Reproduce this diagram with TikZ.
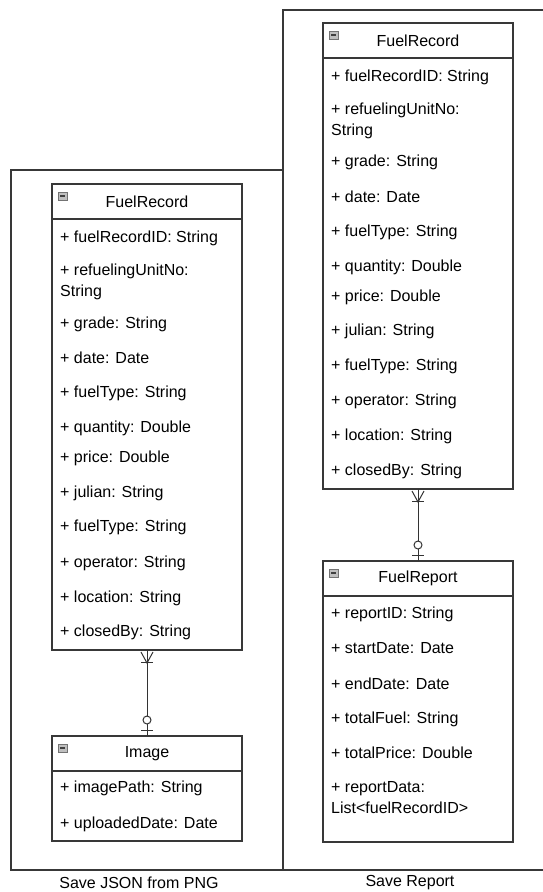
\documentclass[tikz,border=0pt]{standalone}
\usepackage{fontspec}
\setmainfont{Liberation Sans}
\usetikzlibrary{calc}

\tikzset{
  edge/.style={draw=black!78, line width=1.3pt},
  thin edge/.style={draw=black!80, line width=1pt},
  classhead/.style={rectangle, edge, anchor=north west, minimum width=190pt,
    minimum height=35pt, inner sep=0pt, outer sep=0pt,
    font=\fontsize{16}{21}\selectfont},
  classbody/.style={rectangle, edge, anchor=north west, minimum width=190pt,
    inner sep=0pt, outer sep=0pt},
  field/.style={anchor=west, inner sep=0pt, align=left,
    font=\fontsize{16}{21}\selectfont},
  caption/.style={inner sep=0pt, font=\fontsize{16}{19}\selectfont},
  fold/.style={fill=black!25, draw=black!55, line width=0.7pt},
}

% collapse icon in the top-left corner of a class header
\newcommand{\foldicon}[1]{%
  \path[fold] ($(#1.north west)+(6,8)$) rectangle ($(#1.north west)+(15,16)$);
  \draw[black!75, line width=1.1pt] ($(#1.north west)+(8,12)$) -- ($(#1.north west)+(13,12)$);
}

% one-or-many end: crow's foot plus bar, opening towards #1
\newcommand{\manyend}[1]{%
  \draw[thin edge] ($(#1)+(-6,2)$) -- ($(#1)+(0,13)$) -- ($(#1)+(6,2)$);
  \draw[thin edge] ($(#1)+(-6,12)$) -- ($(#1)+(6,12)$);
}
% zero-or-one end: circle plus bar, next to #1
\newcommand{\optend}[1]{%
  \draw[thin edge] ($(#1)+(-6,-6)$) -- ($(#1)+(6,-6)$);
  \draw[thin edge, fill=white] ($(#1)+(0,-16)$) circle (4pt);
}

\begin{document}
\begin{tikzpicture}[x=1pt, y=-1pt]
\useasboundingbox (0,0) rectangle (543,892);

% swimlane frames
\draw[edge] (546,10) -- (283,10) -- (283,870);
\draw[edge] (283,170) -- (11,170) -- (11,870) -- (546,870);

\node[caption] (capL) at (139,883) {Save JSON from PNG};
\node[caption] (capR) at (410,883) {Save Report};

% ---------- left lane: FuelRecord ----------
\node[classhead] (recL) at (52,184) {FuelRecord};
\node[classbody, minimum height=431pt] (recLb) at (recL.south west) {};
\foldicon{recL}
\node[field] (lf1)  at (60,238) {+ fuelRecordID: String};
\node[field] (lf2)  at (60,281.5) {+ refuelingUnitNo:\\String};
\node[field] (lf3)  at (60,324) {+ grade: String};
\node[field] (lf4)  at (60,358) {+ date: Date};
\node[field] (lf5)  at (60,393) {+ fuelType: String};
\node[field] (lf6)  at (60,428) {+ quantity: Double};
\node[field] (lf7)  at (60,458) {+ price: Double};
\node[field] (lf8)  at (60,493) {+ julian: String};
\node[field] (lf9)  at (60,527) {+ fuelType: String};
\node[field] (lf10) at (60,563) {+ operator: String};
\node[field] (lf11) at (60,598) {+ location: String};
\node[field] (lf12) at (60,632) {+ closedBy: String};

% ---------- left lane: Image ----------
\node[classhead] (img) at (52,736) {Image};
\node[classbody, minimum height=70pt] (imgb) at (img.south west) {};
\foldicon{img}
\node[field] (if1) at (60,788) {+ imagePath: String};
\node[field] (if2) at (60,824) {+ uploadedDate: Date};

% ---------- right lane: FuelRecord ----------
\node[classhead] (recR) at (323,23) {FuelRecord};
\node[classbody, minimum height=431pt] (recRb) at (recR.south west) {};
\foldicon{recR}
\node[field] (rf1)  at (331,77) {+ fuelRecordID: String};
\node[field] (rf2)  at (331,120.5) {+ refuelingUnitNo:\\String};
\node[field] (rf3)  at (331,162) {+ grade: String};
\node[field] (rf4)  at (331,197) {+ date: Date};
\node[field] (rf5)  at (331,232) {+ fuelType: String};
\node[field] (rf6)  at (331,267) {+ quantity: Double};
\node[field] (rf7)  at (331,297) {+ price: Double};
\node[field] (rf8)  at (331,331) {+ julian: String};
\node[field] (rf9)  at (331,366) {+ fuelType: String};
\node[field] (rf10) at (331,401) {+ operator: String};
\node[field] (rf11) at (331,436) {+ location: String};
\node[field] (rf12) at (331,471) {+ closedBy: String};

% ---------- right lane: FuelReport ----------
\node[classhead] (rep) at (323,561) {FuelReport};
\node[classbody, minimum height=246pt] (repb) at (rep.south west) {};
\foldicon{rep}
\node[field] (pf1) at (331,614) {+ reportID: String};
\node[field] (pf2) at (331,648) {+ startDate: Date};
\node[field] (pf3) at (331,684) {+ endDate: Date};
\node[field] (pf4) at (331,719) {+ totalFuel: String};
\node[field] (pf5) at (331,753) {+ totalPrice: Double};
\node[field] (pf6) at (331,798) {+ reportData:\\List<fuelRecordID>};

% ---------- relationships ----------
\draw[thin edge] (recLb.south) -- (img.north);
\manyend{recLb.south}
\optend{img.north}

\draw[thin edge] (recRb.south) -- (rep.north);
\manyend{recRb.south}
\optend{rep.north}
\end{tikzpicture}
\end{document}
